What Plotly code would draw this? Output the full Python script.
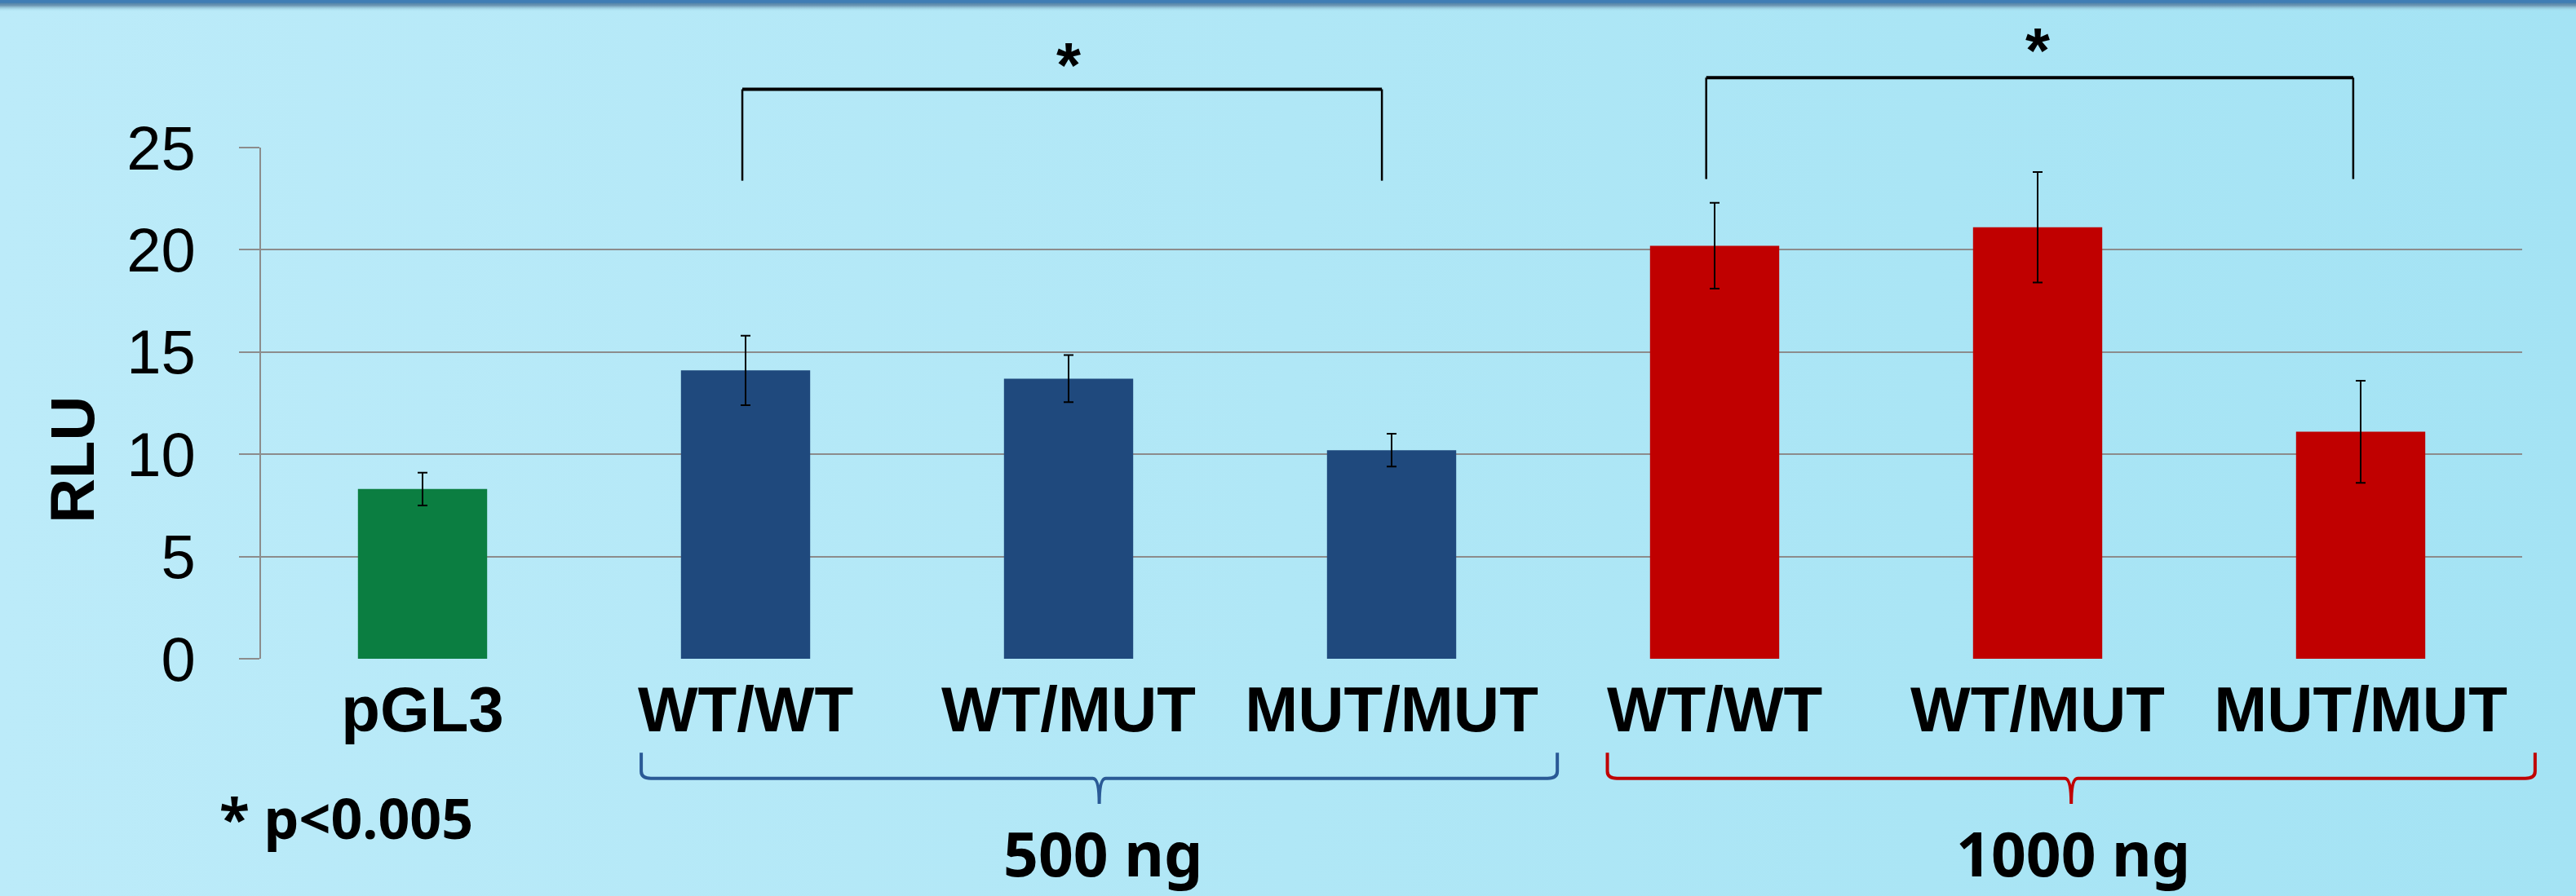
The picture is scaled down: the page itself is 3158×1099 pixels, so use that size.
import base64
import plotly.graph_objects as go

# ---------------- data ----------------
categories = ["pGL3", "WT/WT", "WT/MUT", "MUT/MUT", "WT/WT", "WT/MUT", "MUT/MUT"]
control_values = [8.3]
control_errors = [0.8]
ng500_values = [14.1, 13.7, 10.2]
ng500_errors = [1.7, 1.15, 0.8]
ng1000_values = [20.2, 21.1, 11.1]
ng1000_errors = [2.1, 2.7, 2.5]
y_ticks = [0, 5, 10, 15, 20, 25]
group_labels = ["500 ng", "1000 ng"]
note_text = "* p<0.005"

# ---------------- layout constants ----------------
W, H = 3158, 1099
ML, MR, MT, MB = 320, 66, 181, 291
PW, PH = W - ML - MR, H - MT - MB
Y_MAX = 25
N = len(categories)

GREEN, BLUE, RED = "#0B7E41", "#1F497D", "#C00000"
BRACE_BLUE = "#2A5A96"
GRID = "#8C8C8C"
LBL_FONT = "Liberation Sans, Arial, sans-serif"
GRP_FONT = "Noto Sans, Open Sans, sans-serif"


def px(c):
    """category index -> paper x"""
    return (c + 0.5) / N


def py(v):
    """RLU value -> paper y"""
    return v / Y_MAX


x_all = list(range(N))
x_ctrl = x_all[:1]
x_500 = x_all[1:4]
x_1000 = x_all[4:7]

fig = go.Figure()


def add_bars(xs, ys, errs, color, name):
    fig.add_trace(go.Bar(
        x=xs, y=ys, name=name, marker=dict(color=color, line=dict(width=0)),
        error_y=dict(type="data", array=errs, visible=True, color="black",
                     thickness=2, width=6),
        showlegend=False,
    ))


add_bars(x_ctrl, control_values, control_errors, GREEN, "pGL3")
add_bars(x_500, ng500_values, ng500_errors, BLUE, "500 ng")
add_bars(x_1000, ng1000_values, ng1000_errors, RED, "1000 ng")

shapes = []


def bracket(xl, xr, ytop, ybot):
    shapes.append(dict(type="line", xref="paper", yref="paper",
                       x0=px(xl), x1=px(xr), y0=py(ytop), y1=py(ytop),
                       line=dict(color="black", width=4)))
    for xx in (xl, xr):
        shapes.append(dict(type="line", xref="paper", yref="paper",
                           x0=px(xx), x1=px(xx), y0=py(ytop), y1=py(ybot),
                           line=dict(color="black", width=2.5)))


bracket(0.99, 2.97, 27.85, 23.38)
bracket(3.974, 5.977, 28.42, 23.46)


def brace(xl, xr, color):
    xm = (xl + xr) / 2
    yt, yh, ytip = py(-4.6), py(-5.85), py(-7.1)
    r = 0.03   # corner radius in category units
    rv = py(-0.35)  # vertical radius (paper)
    d = 0.02
    L, R, M = px(xl), px(xr), px(xm)
    rx = r / N
    dx = d / N
    path = (f"M {L},{yt} L {L},{yh - rv} Q {L},{yh} {L + rx},{yh} "
            f"L {M - dx},{yh} Q {M},{yh} {M},{ytip} Q {M},{yh} {M + dx},{yh} "
            f"L {R - rx},{yh} Q {R},{yh} {R},{yh - rv} L {R},{yt}")
    shapes.append(dict(type="path", xref="paper", yref="paper", path=path,
                       line=dict(color=color, width=4),
                       fillcolor="rgba(0,0,0,0)"))


brace(0.677, 3.513, BRACE_BLUE)
brace(3.668, 6.540, RED)

star_font = dict(family=LBL_FONT, size=77, color="black", weight="bold")
grp_font = dict(family=GRP_FONT, size=75, color="black", weight="bold")

annotations = [
    dict(text="*", x=px(2.0), y=py(29.44), xref="paper", yref="paper",
         showarrow=False, font=star_font, xanchor="center", yanchor="middle", yshift=-10),
    dict(text="*", x=px(5.0), y=py(30.14), xref="paper", yref="paper",
         showarrow=False, font=star_font, xanchor="center", yanchor="middle", yshift=-10),
    dict(text=group_labels[0], x=px(2.106), y=py(-9.5), xref="paper", yref="paper",
         showarrow=False, font=grp_font, xanchor="center", yanchor="middle"),
    dict(text=group_labels[1], x=px(5.111), y=py(-9.5), xref="paper", yref="paper",
         showarrow=False, font=grp_font, xanchor="center", yanchor="middle"),
    dict(text=note_text, x=px(-0.634), y=py(-7.75), xref="paper", yref="paper",
         showarrow=False, xanchor="left", yanchor="middle",
         font=dict(family=GRP_FONT, size=68, color="black", weight="bold")),
    dict(text="RLU", x=(88.6 - ML) / PW, y=py(9.72), xref="paper", yref="paper",
         showarrow=False, textangle=-90, xanchor="center", yanchor="middle",
         font=dict(family=LBL_FONT, size=76, color="black", weight="bold")),
]

# background image (gradient + top bar with shadow)
svg = f'''<svg xmlns="http://www.w3.org/2000/svg" width="{W}" height="{H}" viewBox="0 0 {W} {H}" preserveAspectRatio="none">
<defs>
<linearGradient id="bg" x1="0" y1="0" x2="1" y2="0">
<stop offset="0" stop-color="#BCEBF9"/>
<stop offset="0.5" stop-color="#B0E7F6"/>
<stop offset="1" stop-color="#A4E3F4"/>
</linearGradient>
<linearGradient id="sh" x1="0" y1="0" x2="0" y2="1">
<stop offset="0" stop-color="#4A7FA8"/>
<stop offset="0.35" stop-color="#6F98B4"/>
<stop offset="1" stop-color="#A9E2F2" stop-opacity="0"/>
</linearGradient>
</defs>
<rect width="{W}" height="{H}" fill="url(#bg)"/>
<rect y="3" width="{W}" height="11" fill="url(#sh)"/>
<rect width="{W}" height="3.5" fill="#3F7DB5"/>
</svg>'''
src = "data:image/svg+xml;base64," + base64.b64encode(svg.encode()).decode()

fig.update_layout(
    template="none",
    width=W, height=H,
    margin=dict(l=ML, r=MR, t=MT, b=MB, pad=0),
    paper_bgcolor="#B2E6F6",
    plot_bgcolor="rgba(0,0,0,0)",
    barmode="overlay",
    bargap=0.6,
    showlegend=False,
    shapes=shapes,
    annotations=annotations,
    images=[dict(source=src, xref="paper", yref="paper",
                 x=-ML / PW, y=1 + MT / PH, sizex=W / PW, sizey=H / PH,
                 xanchor="left", yanchor="top", sizing="stretch", layer="below")],
    xaxis=dict(
        range=[-0.5, N - 0.5], tickmode="array", tickvals=x_all, ticktext=categories,
        showgrid=False, zeroline=False, showline=False, ticks="",
        tickfont=dict(family=LBL_FONT, size=78, color="black", weight="bold"),
        automargin=False, fixedrange=True, ticklabelstandoff=10,
    ),
    yaxis=dict(
        range=[0, Y_MAX], tickmode="array", tickvals=y_ticks,
        showgrid=True, gridcolor=GRID, gridwidth=2,
        zeroline=False, showline=True, linecolor=GRID, linewidth=2,
        ticks="outside", ticklen=25, tickwidth=2, tickcolor=GRID,
        tickfont=dict(family=LBL_FONT, size=76, color="black"),
        automargin=False, ticklabelstandoff=38,
    ),
)

fig.write_html("out.html", config={"displayModeBar": False},
               post_script="document.body.style.margin='0';document.body.style.overflow='hidden';")
